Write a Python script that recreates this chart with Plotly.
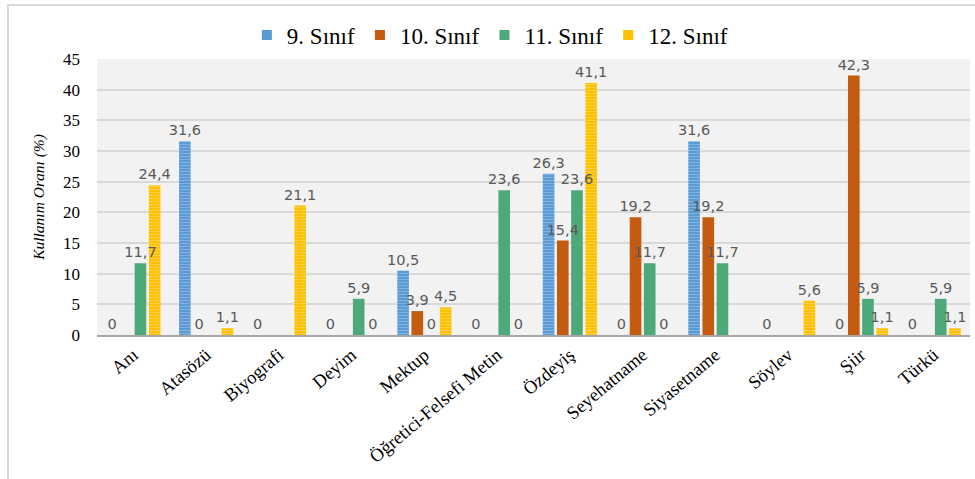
import plotly.graph_objects as go

categories = ["Anı", "Atasözü", "Biyografi", "Deyim", "Mektup", "Öğretici-Felsefi Metin",
              "Özdeyiş", "Seyehatname", "Siyasetname", "Söylev", "Şiir", "Türkü"]
sinif9 = [0, 31.6, 0, 0, 10.5, 0, 26.3, 0, 31.6, 0, 0, 0]
sinif10 = [None, 0, None, None, 3.9, None, 15.4, 19.2, 19.2, None, 42.3, None]
sinif11 = [11.7, None, None, 5.9, 0, 23.6, 23.6, 11.7, 11.7, None, 5.9, 5.9]
sinif12 = [24.4, 1.1, 21.1, 0, 4.5, 0, 41.1, 0, None, 5.6, 1.1, 1.1]
series_names = ["9. Sınıf", "10. Sınıf", "11. Sınıf", "12. Sınıf"]

def fmt(v):
    if v is None:
        return ""
    return "0" if v == 0 else f"{v:.1f}".replace(".", ",")

styles = [
    dict(color="#5B9BD5", pattern=dict(shape="-", fgcolor="#A9CBEB", size=3, solidity=0.35)),
    dict(color="#C55A11"),
    dict(color="#4EA97A"),
    dict(color="#FFC000", pattern=dict(shape="-", fgcolor="#FFDF80", size=3, solidity=0.35)),
]
all_series = [sinif9, sinif10, sinif11, sinif12]

fig = go.Figure()
# visible bars
for i, (name, vals, st) in enumerate(zip(series_names, all_series, styles)):
    marker = dict(color=st["color"], line=dict(width=0))
    if "pattern" in st:
        marker["pattern"] = st["pattern"]
    fig.add_trace(go.Bar(
        name=name, x=categories, y=vals, offsetgroup=f"g{i}", showlegend=False,
        marker=marker, hoverinfo="skip",
    ))
# transparent bars carrying the data labels, drawn on top
for i, (name, vals) in enumerate(zip(series_names, all_series)):
    fig.add_trace(go.Bar(
        name=name, x=categories, y=vals, offsetgroup=f"g{i}", showlegend=False,
        marker=dict(color="rgba(0,0,0,0)", line=dict(width=0)),
        text=[fmt(v) for v in vals], textposition="outside",
        textfont=dict(family="DejaVu Sans, sans-serif", size=14.5, color="#595959"),
        constraintext="none", cliponaxis=False, hoverinfo="skip",
    ))
# legend entries with small square keys
for name, st in zip(series_names, styles):
    fig.add_trace(go.Scatter(
        name=name, x=[None], y=[None], mode="markers",
        marker=dict(symbol="square", size=10, color=st["color"]),
    ))

fig.update_layout(
    width=975, height=479,
    margin=dict(l=97, r=5, t=59, b=144, autoexpand=False),
    paper_bgcolor="white", plot_bgcolor="#F2F2F2",
    barmode="group", bargap=0.22, bargroupgap=0.18,
    font=dict(family="Liberation Serif, Times New Roman, serif", color="#000000"),
    legend=dict(orientation="h", x=0.45, xanchor="center", y=1.087, yanchor="middle",
                font=dict(family="Liberation Serif, serif", size=23, color="#000000"),
                itemwidth=30, traceorder="normal", bgcolor="rgba(0,0,0,0)"),
    showlegend=True,
    shapes=[dict(type="rect", xref="paper", yref="paper", x0=-0.102, x1=1.2, y0=-0.7, y1=1.196,
                 line=dict(color="#D9D9D9", width=2), fillcolor="rgba(0,0,0,0)", layer="below")],
)
fig.update_xaxes(
    tickangle=-40, tickfont=dict(family="Liberation Serif, serif", size=18.5, color="#000000"),
    showline=True, linecolor="#A6A6A6", linewidth=2, showgrid=False, ticks="",
)
fig.update_yaxes(
    range=[0, 45], dtick=5, showgrid=True, gridcolor="#D9D9D9", gridwidth=1.5,
    zeroline=False, ticks="", ticklabelstandoff=16,
    tickfont=dict(family="Liberation Serif, serif", size=17, color="#000000"),
    title=dict(text="Kullanım Oranı (%)", standoff=14,
               font=dict(family="Liberation Serif, serif", size=15.5, color="#000000", style="italic")),
)
fig.write_html("out.html", post_script="document.body.style.margin='0';",
               config={"displayModeBar": False})
